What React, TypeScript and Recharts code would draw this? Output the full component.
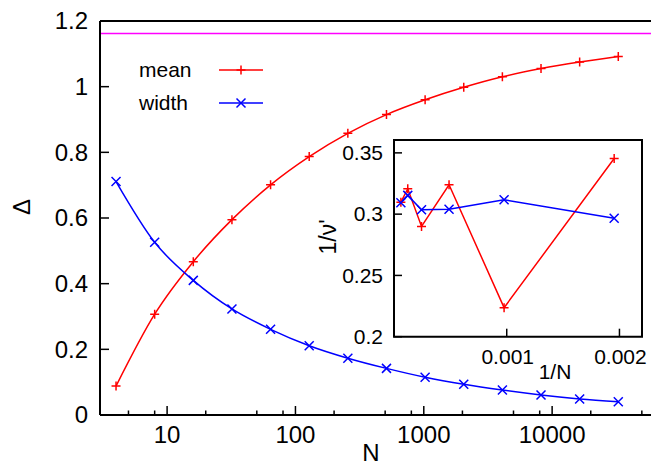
import React from "react";
import { LineChart, Line, XAxis, YAxis, ReferenceLine, ReferenceArea, Legend } from "recharts";

const FONT = "'Liberation Sans', Arial, Helvetica, sans-serif";
const RED = "#ff0000";
const BLUE = "#0000ff";

// main panel: Delta vs N
const nValues = [4, 8, 16, 32, 64, 128, 256, 512, 1024, 2048, 4096, 8192, 16384, 32768];
const meanValues = [0.088, 0.307, 0.467, 0.595, 0.701, 0.787, 0.858, 0.915, 0.96, 0.998, 1.03, 1.055, 1.075, 1.092];
const widthValues = [0.711, 0.526, 0.41, 0.323, 0.261, 0.211, 0.173, 0.142, 0.115, 0.0935, 0.076, 0.061, 0.049, 0.0405];
const limitValue = 1.162;

const xMajorTicks = [10, 100, 1000, 10000];
const xMinorTicks = [5, 8, 20, 50, 80, 200, 500, 800, 2000, 5000, 8000, 20000, 50000];
const yTicks = [0, 0.2, 0.4, 0.6, 0.8, 1, 1.2];

// inset: 1/nu' vs 1/N
const insetN = [16384, 8192, 4096, 2048, 1024, 512];
const insetMean = [0.3098, 0.3207, 0.29, 0.324, 0.2237, 0.3454];
const insetWidth = [0.3093, 0.3153, 0.3036, 0.304, 0.3117, 0.2967];
const insetXTicks = [0.001, 0.002];
const insetYTicks = [0.2, 0.25, 0.3, 0.35];

const mainData = nValues.map((n, i) => ({ n, mean: meanValues[i], width: widthValues[i] }));
const insetData = insetN.map((n, i) => ({ x: 1 / n, mean: insetMean[i], width: insetWidth[i] }));

function Plus({ cx, cy, color = RED, r = 4.5 }: any) {
  if (cx == null || cy == null) return <g />;
  return (
    <path d={`M${cx - r},${cy}H${cx + r}M${cx},${cy - r}V${cy + r}`} stroke={color} strokeWidth={1.5} fill="none" />
  );
}

function Cross({ cx, cy, color = BLUE, r = 4.5 }: any) {
  if (cx == null || cy == null) return <g />;
  return (
    <path
      d={`M${cx - r},${cy - r}L${cx + r},${cy + r}M${cx - r},${cy + r}L${cx + r},${cy - r}`}
      stroke={color}
      strokeWidth={1.5}
      fill="none"
    />
  );
}

const MainXTick = ({ x, y, payload }: any) => {
  const major = xMajorTicks.includes(payload.value);
  return (
    <g>
      <line x1={x} x2={x} y1={y} y2={y - (major ? 9 : 4.5)} stroke="#000" strokeWidth={1.5} />
      {major && (
        <text x={x} y={y + 20} dy="0.35em" textAnchor="middle" fontSize={24} fontFamily={FONT} fill="#000">
          {payload.value}
        </text>
      )}
    </g>
  );
};

const MainYTick = ({ x, y, payload }: any) => (
  <g>
    <line x1={x} x2={x + 9} y1={y} y2={y} stroke="#000" strokeWidth={1.5} />
    <text x={x - 12} y={y} dy="0.35em" textAnchor="end" fontSize={24} fontFamily={FONT} fill="#000">
      {payload.value}
    </text>
  </g>
);

const InsetXTick = ({ x, y, payload }: any) => (
  <g>
    <line x1={x} x2={x} y1={y} y2={y - 8} stroke="#000" strokeWidth={1.5} />
    <text x={x + 1} y={y + 20} dy="0.35em" textAnchor="middle" fontSize={21} fontFamily={FONT} fill="#000">
      {payload.value}
    </text>
  </g>
);

const InsetYTick = ({ x, y, payload }: any) => (
  <g>
    <line x1={x} x2={x + 8} y1={y} y2={y} stroke="#000" strokeWidth={1.5} />
    <text x={x - 11} y={y} dy="0.35em" textAnchor="end" fontSize={21} fontFamily={FONT} fill="#000">
      {payload.value}
    </text>
  </g>
);

const renderLegend = () => (
  <svg width={300} height={130}>
    <text x={139} y={70} dy="0.35em" fontSize={21} fontFamily={FONT} fill="#000">mean</text>
    <line x1={219} x2={263} y1={70} y2={70} stroke={RED} strokeWidth={1.5} />
    <Plus cx={241} cy={70} />
    <text x={139} y={103} dy="0.35em" fontSize={21} fontFamily={FONT} fill="#000">width</text>
    <line x1={219} x2={263} y1={103} y2={103} stroke={BLUE} strokeWidth={1.5} />
    <Cross cx={241} cy={103} />
  </svg>
);

export default function App() {
  const xTicks = [...xMinorTicks, ...xMajorTicks].sort((a, b) => a - b);
  return (
    <div style={{ position: "absolute", left: 0, top: 0, width: 651, height: 466, overflow: "hidden", background: "#fff" }}>
      <LineChart width={660} height={466} data={mainData} margin={{ top: 21, right: 8, bottom: 21, left: 40 }}>
        <XAxis
          dataKey="n"
          type="number"
          scale="log"
          domain={[3, 60000]}
          allowDataOverflow
          ticks={xTicks}
          interval={0}
          tickSize={0}
          tickMargin={0}
          tickLine={false}
          axisLine={{ stroke: "#000", strokeWidth: 2 }}
          tick={MainXTick}
          height={30}
          label={() => (
            <text x={371} y={453} dy="0.35em" textAnchor="middle" fontSize={24} fontFamily={FONT} fill="#000">
              N
            </text>
          )}
        />
        <YAxis
          type="number"
          domain={[0, 1.2]}
          allowDataOverflow
          ticks={yTicks}
          interval={0}
          tickSize={0}
          tickMargin={0}
          tickLine={false}
          axisLine={{ stroke: "#000", strokeWidth: 2 }}
          tick={MainYTick}
          width={60}
          label={() => (
            <text
              x={22}
              y={207}
              dy="0.35em"
              textAnchor="middle"
              fontSize={24}
              fontFamily={FONT}
              fill="#000"
              transform="rotate(-90 22 207)"
            >
              Δ
            </text>
          )}
        />
        <ReferenceLine y={1.2} stroke="#000" strokeWidth={2} />
        <ReferenceLine y={limitValue} stroke="#ff00ff" strokeWidth={1.5} />
        <Legend content={renderLegend} verticalAlign="middle" wrapperStyle={{ left: 0, top: 0, width: 300, height: 130 }} />
        <Line
          type="monotone"
          dataKey="mean"
          stroke={RED}
          strokeWidth={1.5}
          isAnimationActive={false}
          dot={(p: any) => <Plus key={`m${p.index}`} cx={p.cx} cy={p.cy} />}
        />
        <Line
          type="monotone"
          dataKey="width"
          stroke={BLUE}
          strokeWidth={1.5}
          isAnimationActive={false}
          dot={(p: any) => <Cross key={`w${p.index}`} cx={p.cx} cy={p.cy} />}
        />
      </LineChart>

      <div style={{ position: "absolute", left: 300, top: 120 }}>
        <LineChart width={350} height={270} data={insetData} margin={{ top: 20, right: 8, bottom: 23.3, left: 34 }}>
          <XAxis
            dataKey="x"
            type="number"
            domain={[0, 0.0022]}
            allowDataOverflow
            ticks={insetXTicks}
            interval={0}
            tickSize={0}
            tickMargin={0}
            tickLine={false}
            axisLine={false}
            tick={InsetXTick}
            height={30}
            label={() => (
              <text x={255} y={252} dy="0.35em" textAnchor="middle" fontSize={21} fontFamily={FONT} fill="#000">
                1/N
              </text>
            )}
          />
          <YAxis
            type="number"
            domain={[0.2, 0.3605]}
            allowDataOverflow
            ticks={insetYTicks}
            interval={0}
            tickSize={0}
            tickMargin={0}
            tickLine={false}
            axisLine={false}
            tick={InsetYTick}
            width={60}
            label={() => (
              <text
                x={28}
                y={117}
                dy="0.35em"
                textAnchor="middle"
                fontSize={23}
                fontFamily={FONT}
                fill="#000"
                transform="rotate(-90 28 117)"
              >
                1/ν'
              </text>
            )}
          />
          <ReferenceArea x1={0} x2={0.0022} y1={0.2} y2={0.3605} fill="none" stroke="#000" strokeWidth={2} />
          <Line
            type="linear"
            dataKey="mean"
            stroke={RED}
            strokeWidth={1.5}
            isAnimationActive={false}
            dot={(p: any) => <Plus key={`im${p.index}`} cx={p.cx} cy={p.cy} />}
          />
          <Line
            type="linear"
            dataKey="width"
            stroke={BLUE}
            strokeWidth={1.5}
            isAnimationActive={false}
            dot={(p: any) => <Cross key={`iw${p.index}`} cx={p.cx} cy={p.cy} />}
          />
        </LineChart>
      </div>
    </div>
  );
}
